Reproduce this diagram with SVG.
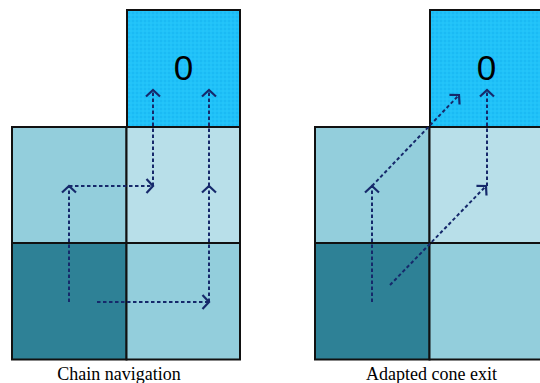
<svg xmlns="http://www.w3.org/2000/svg" width="540" height="383" viewBox="0 0 540 383">
<style>
.cell{stroke:#111;stroke-width:2}
.l{fill:#93CEDC}
.ll{fill:#B8DFE9}
.d{fill:#2E8196}
.top{fill:url(#dots)}
.conn{fill:none;stroke:#16296B;stroke-width:2;stroke-dasharray:3.5 2.5;marker-end:url(#ah)}
.zero{font-family:"Liberation Sans",Arial,sans-serif;font-size:35px;fill:#000;text-anchor:middle}
.cap{font-family:"Liberation Serif","Times New Roman",serif;font-size:18px;fill:#000;text-anchor:middle}
</style>
<defs>
<pattern id="dots" width="4" height="4" patternUnits="userSpaceOnUse">
<rect width="4" height="4" fill="#20C2F9"/>
<circle cx="1" cy="1" r="0.8" fill="#13B0EE"/>
<circle cx="3" cy="3" r="0.8" fill="#2BC8FB"/>
</pattern>
<marker id="ah" viewBox="-9 -9 18 18" markerWidth="18" markerHeight="18" refX="0" refY="0" orient="auto" markerUnits="userSpaceOnUse">
<path d="M-6.5,-7 L0,0 L-6.5,7" fill="none" stroke="#16296B" stroke-width="2.2"/>
</marker>
</defs>
<g id="left-panel">
<g id="L-top"><rect class="cell top" x="127" y="10" width="113" height="117"/><text class="zero" x="183.5" y="80">0</text></g>
<g id="L-a"><rect class="cell l" x="12" y="127" width="114.5" height="116"/></g>
<g id="L-b"><rect class="cell ll" x="126.5" y="127" width="113.5" height="116"/></g>
<g id="L-c"><rect class="cell d" x="12" y="243" width="114.5" height="116.5"/></g>
<g id="L-d"><rect class="cell l" x="126.5" y="243" width="113.5" height="116.5"/></g>
<text class="cap" x="119" y="380">Chain navigation</text>
</g>
<g id="right-panel">
<g id="R-top"><rect class="cell top" x="430" y="10" width="113" height="117"/><text class="zero" x="486.5" y="80">0</text></g>
<g id="R-a"><rect class="cell l" x="315" y="127" width="114.5" height="116"/></g>
<g id="R-b"><rect class="cell ll" x="429.5" y="127" width="113.5" height="116"/></g>
<g id="R-c"><rect class="cell d" x="315" y="243" width="114.5" height="116.5"/></g>
<g id="R-d"><rect class="cell l" x="429.5" y="243" width="113.5" height="116.5"/></g>
<text class="cap" x="431.5" y="380">Adapted cone exit</text>
</g>
<g id="connectors">
<path class="conn" d="M69,302 V186"/>
<path class="conn" d="M69,186 H153"/>
<path class="conn" d="M153,186 V90"/>
<path class="conn" d="M97,302 H209"/>
<path class="conn" d="M209,302 V186"/>
<path class="conn" d="M209,186 V90"/>
<path class="conn" d="M372,302 V186"/>
<path class="conn" d="M372,186 L459,95"/>
<path class="conn" d="M487,186 V90"/>
<path class="conn" d="M390,285 L486,186"/>
</g>
</svg>
